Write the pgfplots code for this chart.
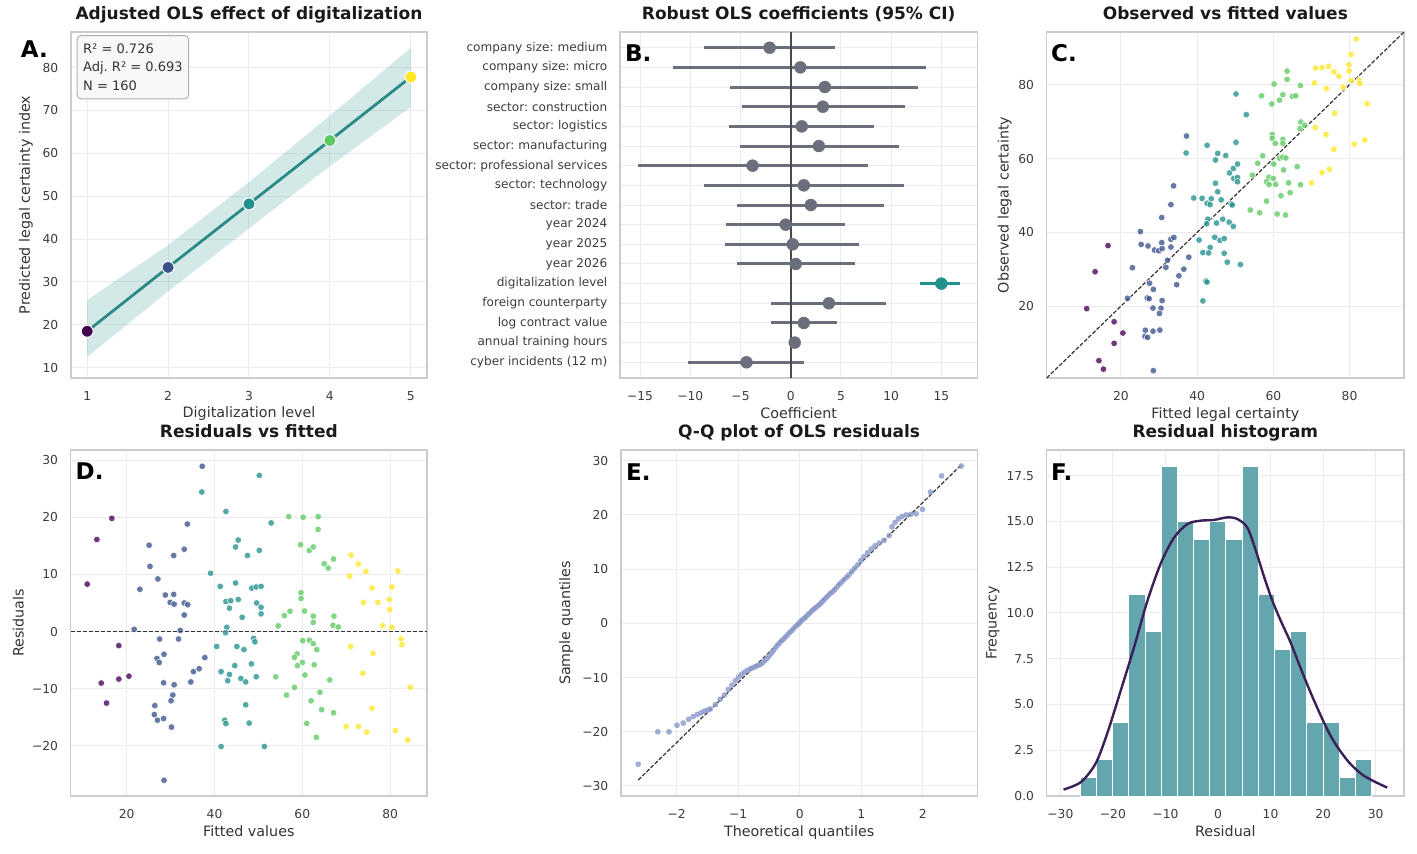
\documentclass[border=0pt]{standalone}
\usepackage{fontspec}
\setmainfont{DejaVu Sans}
\usepackage{pgfplots}
\usepackage{pgfplotstable}
\pgfplotsset{compat=1.18}
\frenchspacing

\definecolor{vA}{HTML}{440154}
\definecolor{vB}{HTML}{3B528B}
\definecolor{vC}{HTML}{21918C}
\definecolor{vD}{HTML}{5EC962}
\definecolor{vE}{HTML}{FDE725}
\definecolor{gridc}{HTML}{EBEBEB}
\definecolor{edgec}{HTML}{CCCCCC}
\definecolor{tickc}{HTML}{3C3C3C}
\definecolor{labc}{HTML}{333333}
\definecolor{titc}{HTML}{1A1A1A}
\definecolor{slate}{HTML}{6B6F7B}
\definecolor{tealc}{HTML}{21918C}
\definecolor{linec}{HTML}{2A8A84}
\definecolor{histc}{HTML}{63A6AD}
\definecolor{kdec}{HTML}{3B1F57}
\definecolor{qqc}{HTML}{8C9ACB}
\definecolor{zeroc}{HTML}{4A4A4A}
\definecolor{boxedge}{HTML}{B0B0B0}
\definecolor{boxfill}{HTML}{F8F8F8}

\newcommand{\tickfont}{\fontsize{12.3pt}{14pt}\selectfont}
\newcommand{\cattickfont}{\fontsize{12.1pt}{14pt}\selectfont}
\newcommand{\labfont}{\fontsize{14.3pt}{17pt}\selectfont}
\newcommand{\titfont}{\fontsize{17pt}{20pt}\selectfont\bfseries}
\newcommand{\panfont}{\fontsize{23pt}{26pt}\selectfont\bfseries}
\newcommand{\boxfont}{\fontsize{13pt}{18.3pt}\selectfont}

\pgfplotsset{
  panel/.style={
    scale only axis, anchor=north west, height=346pt,
    axis line style={draw=edgec, line width=1.1pt},
    grid=major, major grid style={draw=gridc, line width=1pt},
    tick style={draw=none}, major tick length=0pt,
    ticklabel style={font=\tickfont, text=tickc},
    xticklabel style={anchor=north, inner sep=0pt, yshift=-13.5pt},
    yticklabel style={anchor=east, inner sep=0pt, xshift=-12.5pt},
    xlabel style={font=\labfont, text=labc, at={([yshift=-40pt]axis description cs:0.5,0)}, anchor=base, inner sep=0pt},
    ylabel style={font=\labfont, text=labc, anchor=base, inner sep=0pt},
    title style={font=\titfont, text=titc, at={([yshift=7pt]axis description cs:0.5,1)}, anchor=base, inner sep=0pt},
  },
  ylab/.style={ylabel style={at={([xshift=-#1]axis description cs:0,0.5)}}},
  vclasses/.style={scatter, only marks, scatter src=explicit symbolic,
    scatter/classes={a={fill=vA},b={fill=vB},c={fill=vC},d={fill=vD},e={fill=vE}}},
}

\pgfplotstableread{
f r o l
37.2 28.9 66.1 b
37.1 24.4 61.5 c
42.6 21.0 63.6 c
16.6 19.8 36.4 a
33.8 18.8 52.6 b
13.2 16.1 29.3 a
45.4 16.0 61.4 c
44.8 14.8 59.6 c
25.1 15.1 40.2 b
33.1 14.4 47.5 b
30.7 13.3 44.0 b
47.5 13.3 60.8 c
25.3 11.4 36.7 b
27.1 9.2 36.3 b
39.1 10.2 49.3 c
11.0 8.3 19.3 a
23.0 7.4 30.4 b
41.3 7.9 49.2 c
44.8 8.5 53.3 c
28.8 6.4 35.2 b
30.7 6.5 37.2 b
29.9 5.1 35.0 b
30.8 4.8 35.6 b
33.1 5.0 38.1 b
33.9 4.7 38.6 b
42.6 5.25 47.85 c
43.7 5.4 49.1 c
45.4 5.6 51.0 c
43.4 4.1 47.5 c
33.1 2.9 36.0 b
46.3 2.5 48.8 c
21.7 0.4 22.1 b
32.2 0.2 32.4 b
42.8 0.75 43.55 c
42.5 -0.2 42.3 c
27.5 -1.3 26.2 b
31.8 -1.3 30.5 b
18.2 -2.45 15.75 a
40.5 -2.6 37.9 c
45.1 -2.6 42.5 c
46.7 -3.15 43.55 c
28.5 -3.97 24.53 b
26.9 -4.7 22.2 b
27.4 -5.4 22.0 b
37.8 -4.55 33.25 b
44.6 -5.95 38.65 c
36.5 -6.5 30.0 b
35.2 -7.0 28.2 b
18.2 -8.3 9.9 a
20.5 -7.8 12.7 a
14.2 -9.0 5.2 a
28.4 -8.95 19.45 b
30.8 -9.3 21.5 b
34.6 -8.8 25.8 b
41.5 -7.0 34.5 c
43.4 -7.5 35.9 c
43.0 -8.6 34.4 c
46.0 -8.2 37.8 c
47.1 -8.8 38.3 c
30.5 -11.1 19.4 b
30.1 -12.1 18.0 b
15.4 -12.5 2.9 a
26.4 -12.95 13.45 b
47.1 -12.8 34.3 c
26.3 -14.5 11.8 b
27.0 -15.5 11.5 b
28.4 -15.2 13.2 b
30.2 -16.7 13.5 b
42.3 -15.5 26.8 c
42.6 -16.1 26.5 c
47.9 -16.0 31.9 c
41.5 -20.1 21.4 c
28.5 -26.0 2.5 b
50.2 27.3 77.5 c
52.9 19.0 71.9 c
56.9 20.1 77.0 d
60.2 20.0 80.2 d
63.6 20.1 83.7 d
63.6 17.85 81.45 d
50.2 14.2 64.4 c
59.6 15.2 74.8 d
61.6 14.2 75.8 d
62.5 14.8 77.3 d
65.0 11.85 76.85 d
65.9 11.1 77.0 d
67.1 12.7 79.8 d
71.1 13.4 84.5 e
72.8 11.85 84.65 e
74.5 10.5 85.0 e
70.8 9.7 80.5 e
81.8 10.6 92.4 e
75.9 7.6 83.5 e
80.4 7.8 88.2 e
73.9 5.1 79.0 e
77.2 5.1 82.3 e
79.8 5.6 85.4 e
79.9 3.85 83.75 e
48.5 7.6 56.1 c
49.5 7.8 57.3 c
50.6 7.9 58.5 c
49.6 5.0 54.6 c
50.6 4.25 54.85 c
50.6 3.1 53.7 c
59.7 6.8 66.5 d
59.7 5.8 65.5 d
57.2 3.55 60.75 d
55.9 2.8 58.7 d
60.5 3.6 64.1 d
62.5 2.7 65.2 d
62.5 1.6 64.1 d
54.5 1.0 55.5 d
67.2 2.7 69.9 d
67.0 1.1 68.1 d
68.2 0.8 69.0 d
78.3 1.05 79.35 e
80.4 0.75 81.15 e
48.9 -1.2 47.7 c
49.2 -1.8 47.4 c
60.1 -1.6 58.5 d
61.6 -1.5 60.1 d
62.5 -2.1 60.4 d
63.3 -3.15 60.15 d
82.5 -1.3 81.2 e
82.7 -2.3 80.4 e
71.0 -2.6 68.4 e
76.1 -3.8 72.3 e
58.8 -3.9 54.9 d
58.2 -4.5 53.7 d
60.0 -5.4 54.6 d
58.9 -5.95 52.95 d
62.7 -5.8 56.9 d
48.4 -5.65 42.75 c
60.6 -7.6 53.0 d
49.5 -7.9 41.6 c
53.95 -7.9 46.05 d
66.25 -8.45 57.8 d
73.8 -7.3 66.5 e
58.2 -9.75 48.45 d
56.4 -11.1 45.3 d
84.6 -9.75 74.85 e
64.0 -10.6 53.4 d
62.0 -12.1 49.9 d
64.4 -13.65 50.75 d
67.1 -14.2 52.9 d
75.9 -13.4 62.5 e
61.0 -16.05 44.95 d
63.2 -18.5 44.7 d
70.0 -16.6 53.4 e
72.8 -16.6 56.2 e
74.7 -17.6 57.1 e
81.2 -17.3 63.9 e
84.0 -18.95 65.05 e
51.35 -20.1 31.25 c
}\dataCD

\pgfplotstableread{
q s
-2.626 -26.0
-2.308 -20.0
-2.126 -20.0
-1.996 -18.8
-1.893 -18.4
-1.806 -17.7
-1.732 -17.2
-1.665 -16.8
-1.606 -16.5
-1.551 -16.2
-1.501 -16.0
-1.455 -15.8
-1.370 -15.0
-1.294 -14.0
-1.225 -13.2
-1.161 -12.2
-1.102 -11.4
-1.046 -10.6
-0.994 -9.9
-0.944 -9.4
-0.896 -9.0
-0.850 -8.7
-0.806 -8.4
-0.764 -8.2
-0.723 -8.0
-0.683 -7.8
-0.644 -7.6
-0.606 -7.3
-0.568 -6.9
-0.532 -6.5
-0.496 -6.0
-0.461 -5.5
-0.427 -5.0
-0.393 -4.5
-0.359 -4.0
-0.326 -3.6
-0.293 -3.2
-0.261 -2.9
-0.229 -2.5
-0.197 -2.1
-0.165 -1.7
-0.133 -1.4
-0.102 -1.0
-0.070 -0.6
-0.039 -0.3
-0.008 0.0
0.008 0.3
0.039 0.6
0.070 0.9
0.102 1.2
0.133 1.6
0.165 1.9
0.197 2.3
0.229 2.6
0.261 2.9
0.293 3.2
0.326 3.5
0.359 3.9
0.393 4.3
0.427 4.7
0.461 5.1
0.496 5.5
0.532 5.8
0.568 6.2
0.606 6.7
0.644 7.2
0.683 7.6
0.723 8.1
0.764 8.5
0.806 9.0
0.850 9.6
0.896 10.2
0.944 10.8
0.994 11.6
1.046 12.3
1.102 13.0
1.161 13.7
1.225 14.3
1.294 14.8
1.370 15.3
1.455 16.2
1.501 17.8
1.551 18.6
1.606 19.3
1.665 19.7
1.732 20.0
1.806 20.1
1.893 20.2
1.996 21.0
2.126 24.2
2.308 27.2
2.626 29.0
}\dataQQ

\begin{document}
\begin{tikzpicture}
\useasboundingbox (0,0) rectangle (1417pt,-854pt);

% ---------------- A ----------------
\begin{axis}[panel, at={(71pt,-32pt)}, width=356pt,
  xmin=0.8, xmax=5.2, ymin=7.6, ymax=88.3,
  xtick={1,2,3,4,5}, xticklabels={1,2,3,4,5},
  ytick={10,20,30,40,50,60,70,80}, yticklabels={10,20,30,40,50,60,70,80},
  title={Adjusted OLS effect of digitalization},
  xlabel={Digitalization level}, ylabel={Predicted legal certainty index}, ylab=41pt]
\addplot[draw=none, fill=tealc, fill opacity=0.2] coordinates {(1,12.5) (2,27.8) (3,42.5) (4,57.0) (5,70.8) (5,84.6) (4,68.8) (3,53.3) (2,38.6) (1,25.8)} -- cycle;
\addplot[linec, line width=2.8pt] coordinates {(1,18.5) (2,33.4) (3,48.2) (4,63.0) (5,77.8)};
\addplot[vclasses, mark=*, mark size=6pt, mark options={draw=white, line width=1pt}] coordinates {(1,18.5) [a] (2,33.4) [b] (3,48.2) [c] (4,63.0) [d] (5,77.8) [e]};
\end{axis}

% ---------------- B ----------------
\begin{axis}[panel, at={(620pt,-32pt)}, width=357.5pt,
  xmin=-17.0, xmax=18.6, ymin=-0.8, ymax=16.8, y dir=reverse,
  xtick={-15,-10,-5,0,5,10,15}, xticklabels={−15,−10,−5,0,5,10,15},
  ytick={0,1,2,3,4,5,6,7,8,9,10,11,12,13,14,15,16},
  yticklabels={company size: medium,company size: micro,company size: small,sector: construction,sector: logistics,sector: manufacturing,sector: professional services,sector: technology,sector: trade,year 2024,year 2025,year 2026,digitalization level,foreign counterparty,log contract value,annual training hours,cyber incidents (12 m)},
  yticklabel style={font=\cattickfont},
  title={Robust OLS coefficients (95\% CI)}, xlabel={Coefficient}]
\addplot[slate, line width=3pt] coordinates {(-8.6,0) (4.4,0)};
\addplot[slate, line width=3pt] coordinates {(-11.7,1) (13.5,1)};
\addplot[slate, line width=3pt] coordinates {(-6.0,2) (12.7,2)};
\addplot[slate, line width=3pt] coordinates {(-4.9,3) (11.4,3)};
\addplot[slate, line width=3pt] coordinates {(-6.1,4) (8.3,4)};
\addplot[slate, line width=3pt] coordinates {(-5.1,5) (10.8,5)};
\addplot[slate, line width=3pt] coordinates {(-15.2,6) (7.7,6)};
\addplot[slate, line width=3pt] coordinates {(-8.6,7) (11.3,7)};
\addplot[slate, line width=3pt] coordinates {(-5.3,8) (9.3,8)};
\addplot[slate, line width=3pt] coordinates {(-6.4,9) (5.4,9)};
\addplot[slate, line width=3pt] coordinates {(-6.5,10) (6.8,10)};
\addplot[slate, line width=3pt] coordinates {(-5.3,11) (6.4,11)};
\addplot[slate, line width=3pt] coordinates {(-1.95,13) (9.5,13)};
\addplot[slate, line width=3pt] coordinates {(-2.0,14) (4.65,14)};
\addplot[slate, line width=3pt] coordinates {(0.2,15) (0.6,15)};
\addplot[slate, line width=3pt] coordinates {(-10.2,16) (1.3,16)};
\addplot[tealc, line width=2.5pt] coordinates {(12.9,12) (16.9,12)};
\addplot[zeroc, line width=1.8pt] coordinates {(0,-0.8) (0,16.8)};
\addplot[only marks, mark=*, mark size=6pt, color=slate, fill=slate] coordinates {(-2.1,0) (0.96,1) (3.4,2) (3.2,3) (1.1,4) (2.8,5) (-3.8,6) (1.3,7) (2.0,8) (-0.5,9) (0.2,10) (0.5,11) (3.8,13) (1.3,14) (0.4,15) (-4.4,16)};
\addplot[only marks, mark=*, mark size=6pt, color=tealc, fill=tealc] coordinates {(15.0,12)};
\end{axis}

% ---------------- C ----------------
\begin{axis}[panel, at={(1046.7pt,-32pt)}, width=357.3pt,
  xmin=0.5, xmax=94.3, ymin=0.5, ymax=94.3,
  xtick={20,40,60,80}, xticklabels={20,40,60,80},
  ytick={20,40,60,80}, yticklabels={20,40,60,80},
  title={Observed vs fitted values},
  xlabel={Fitted legal certainty}, ylabel={Observed legal certainty}, ylab=38pt]
\addplot[vclasses, mark=*, mark size=3.3pt, mark options={draw=white, line width=0.5pt, fill opacity=0.78}] table[x=f, y=o, meta=l] {\dataCD};
\addplot[labc, line width=1.2pt, dash pattern=on 4pt off 1.8pt] coordinates {(0.5,0.5) (94.3,94.3)};
\end{axis}

% ---------------- D ----------------
\begin{axis}[panel, at={(70.7pt,-450pt)}, width=356.3pt,
  xmin=7.24, xmax=88.4, ymin=-28.75, ymax=31.75,
  xtick={20,40,60,80}, xticklabels={20,40,60,80},
  ytick={-20,-10,0,10,20,30}, yticklabels={−20,−10,0,10,20,30},
  title={Residuals vs fitted},
  xlabel={Fitted values}, ylabel={Residuals}, ylab=47pt]
\addplot[vclasses, mark=*, mark size=3.3pt, mark options={draw=white, line width=0.5pt, fill opacity=0.78}] table[x=f, y=r, meta=l] {\dataCD};
\addplot[labc, line width=1.5pt, dash pattern=on 4pt off 2pt] coordinates {(7.24,0) (88.4,0)};
\end{axis}

% ---------------- E ----------------
\begin{axis}[panel, at={(621pt,-450pt)}, width=356.3pt,
  xmin=-2.906, xmax=2.888, ymin=-31.85, ymax=31.97,
  xtick={-2,-1,0,1,2}, xticklabels={−2,−1,0,1,2},
  ytick={-30,-20,-10,0,10,20,30}, yticklabels={−30,−20,−10,0,10,20,30},
  title={Q-Q plot of OLS residuals},
  xlabel={Theoretical quantiles}, ylabel={Sample quantiles}, ylab=51pt]
\addplot[only marks, mark=*, mark size=2.6pt, color=qqc, fill=qqc, opacity=0.8] table[x=q, y=s] {\dataQQ};
\addplot[labc, line width=1.2pt, dash pattern=on 4pt off 1.8pt] coordinates {(-2.626,-28.9) (2.626,29.2)};
\end{axis}

% ---------------- F ----------------
\begin{axis}[panel, at={(1046.7pt,-450pt)}, width=357.3pt,
  xmin=-32.6, xmax=35.4, ymin=0, ymax=18.9,
  xtick={-30,-20,-10,0,10,20,30}, xticklabels={−30,−20,−10,0,10,20,30},
  ytick={0,2.5,5,7.5,10,12.5,15,17.5}, yticklabels={0.0,2.5,5.0,7.5,10.0,12.5,15.0,17.5},
  title={Residual histogram},
  xlabel={Residual}, ylabel={Frequency}, ylab=50pt]
\addplot[ybar interval, fill=histc, draw=white, line width=1pt] coordinates {(-26.2,1) (-23.12,2) (-20.04,4) (-16.96,11) (-13.88,9) (-10.8,18) (-7.72,15) (-4.64,14) (-1.56,15) (1.52,14) (4.6,18) (7.68,11) (10.76,8) (13.84,9) (16.92,4) (20.0,4) (23.08,1) (26.16,2) (29.24,0)};
\addplot[kdec, line width=2.4pt, smooth] coordinates {(-29.4,0.35) (-26.1,0.76) (-23.3,1.77) (-21.1,3.4) (-18.5,5.77) (-16.0,8.1) (-13.5,10.6) (-10.9,12.7) (-8.4,14.1) (-5.8,14.86) (-3.3,15.04) (-0.76,15.08) (1.78,15.22) (3.7,15.13) (5.6,14.65) (7.2,13.4) (8.8,11.95) (10.3,10.7) (11.9,9.6) (13.8,8.4) (15.7,7.0) (18.3,5.2) (21.4,3.3) (24.6,1.95) (27.8,1.1) (32.2,0.46)};
\end{axis}

% panel letters and stats box
\node[anchor=base west, font=\panfont, inner sep=0pt] at (20.7pt,-57pt) {A.};
\node[anchor=base west, font=\panfont, inner sep=0pt] at (625pt,-61pt) {B.};
\node[anchor=base west, font=\panfont, inner sep=0pt] at (1051pt,-61pt) {C.};
\node[anchor=base west, font=\panfont, inner sep=0pt] at (75.5pt,-479.5pt) {D.};
\node[anchor=base west, font=\panfont, inner sep=0pt] at (626pt,-480pt) {E.};
\node[anchor=base west, font=\panfont, inner sep=0pt] at (1051pt,-480pt) {F.};
\node[draw=boxedge, fill=boxfill, rounded corners=4pt, line width=1pt, anchor=north west, inner xsep=6pt, inner ysep=8.5pt, align=left, font=\boxfont, text=labc] at (76.7pt,-35pt) {R² = 0.726\\Adj. R² = 0.693\\N = 160};
\end{tikzpicture}
\end{document}
